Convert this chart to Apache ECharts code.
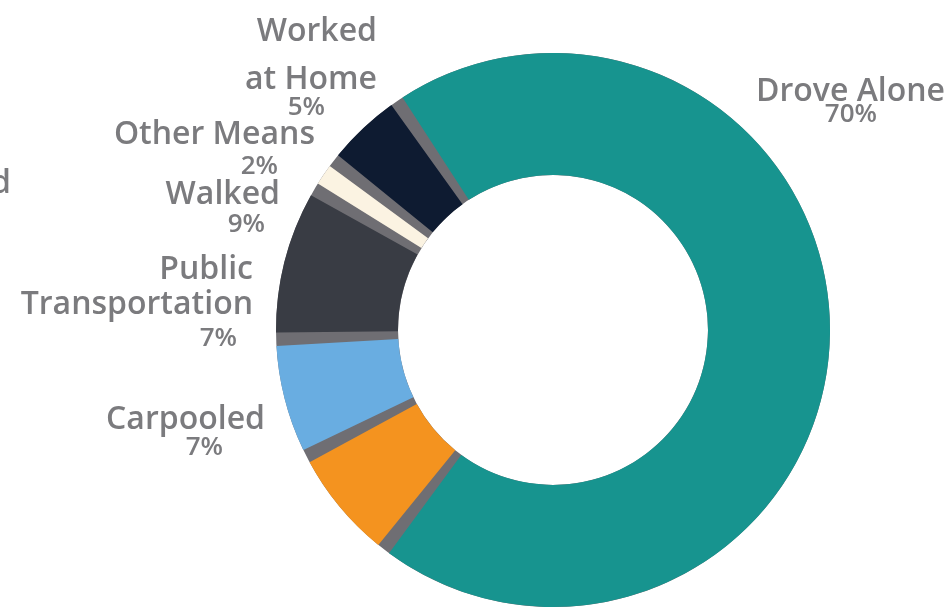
<!DOCTYPE html>
<html>
<head>
<meta charset="utf-8">
<script src="https://cdn.jsdelivr.net/npm/echarts@6/dist/echarts.min.js"></script>
<style>
  html, body { margin: 0; padding: 0; background: #fff; }
  #main { width: 952px; height: 611px; }
</style>
</head>
<body>
<div id="main"></div>
<script>
// means of transportation to work
var modes = ['Drove Alone', 'Carpooled', 'Public\nTransportation', 'Walked', 'Other Means', 'Worked\nat Home'];
var shares = [70, 7, 7, 9, 2, 5];
var pctLabels = ['70%', '7%', '7%', '9%', '2%', '5%'];
var colors = ['#17948f', '#f4931f', '#69ade1', '#393c44', '#fbf3e2', '#0e1b31'];

// label placement: right edge, top, name line height, pct line height, pct right pad
var labelBox = [
  [945, 74, 35, 12, 68],
  [265, 402, 35, 22, 42],
  [253, 252, 35, 34, 16],
  [280, 177, 35, 26, 15],
  [315, 117, 35, 30, 37],
  [377, 8, 48, 7, 52]
];

var gray = '#7b7b7e';
var font = 'Open Sans';

var data = modes.map(function (m, i) {
  var b = labelBox[i];
  return {
    name: m,
    value: shares[i],
    itemStyle: { color: colors[i] },
    label: {
      formatter: '{n|' + m + '}\n{p|' + pctLabels[i] + '}',
      rich: {
        n: { fontFamily: font, fontWeight: 600, fontSize: 32, lineHeight: b[2], color: gray, align: 'right' },
        p: { fontFamily: font, fontWeight: 600, fontSize: 26, lineHeight: b[3], color: gray, align: 'right', padding: [0, b[4], 0, 0] }
      }
    }
  };
});

var chart = echarts.init(document.getElementById('main'), null, { renderer: 'canvas' });

chart.setOption({
  animation: false,
  backgroundColor: '#fff',
  graphic: [{
    type: 'text',
    left: -9,
    top: 168,
    style: { text: 'd', fontFamily: font, fontWeight: 600, fontSize: 32, fill: gray }
  }],
  series: [
    {
      // gray ring showing through the gaps between slices
      type: 'pie',
      silent: true,
      center: [553, 330],
      radius: [155, 277],
      label: { show: false },
      labelLine: { show: false },
      itemStyle: { color: '#6f6e73' },
      data: [{ value: 1, name: '' }],
      z: 1
    },
    {
      type: 'pie',
      center: [553, 330],
      radius: [155, 277],
      startAngle: 124.3,
      clockwise: true,
      padAngle: 2.8,
      avoidLabelOverlap: false,
      label: { show: true, position: 'outside' },
      labelLine: { show: false },
      labelLayout: function (params) {
        var b = labelBox[params.dataIndex];
        return { x: b[0], y: b[1], align: 'right', verticalAlign: 'top' };
      },
      data: data,
      z: 2
    }
  ]
});
</script>
</body>
</html>
